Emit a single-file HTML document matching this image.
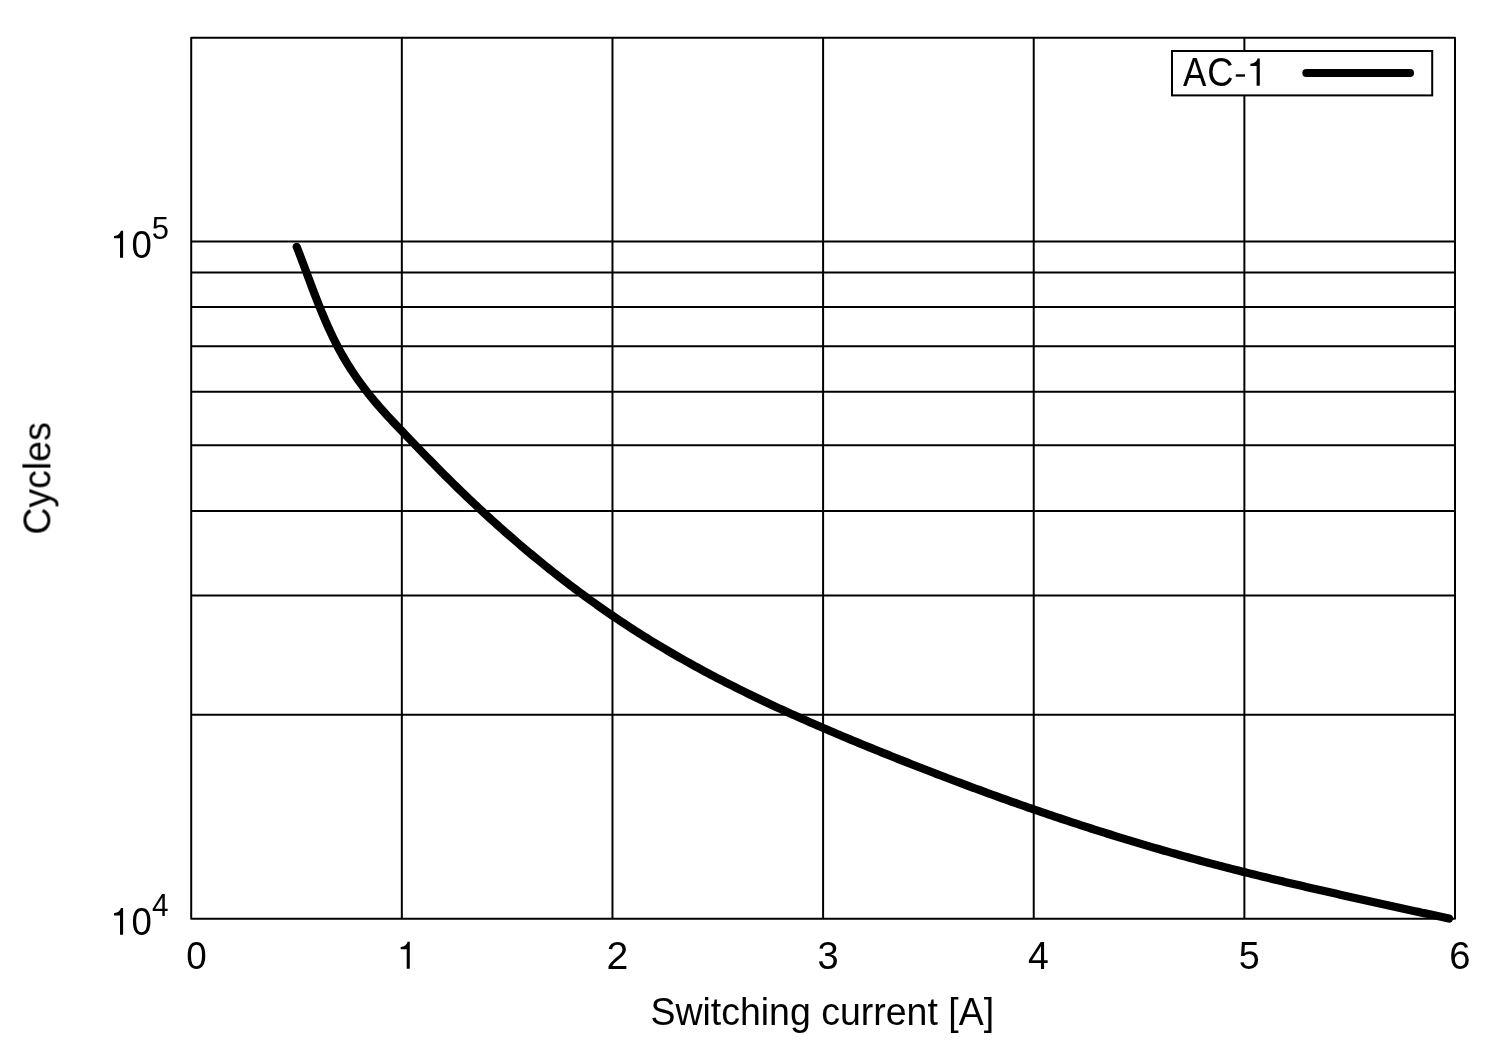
<!DOCTYPE html>
<html><head><meta charset="utf-8"><style>
html,body{margin:0;padding:0;background:#fff;width:1500px;height:1050px;overflow:hidden}
svg{display:block}
text{font-family:"Liberation Sans",sans-serif;fill:#000}
</style></head><body>
<svg width="1500" height="1050" viewBox="0 0 1500 1050">
<rect width="1500" height="1050" fill="#fff"/>
<g stroke="#000" stroke-width="2" fill="none">
<line x1="401.83" y1="37.70" x2="401.83" y2="918.70"/>
<line x1="612.47" y1="37.70" x2="612.47" y2="918.70"/>
<line x1="823.10" y1="37.70" x2="823.10" y2="918.70"/>
<line x1="1033.73" y1="37.70" x2="1033.73" y2="918.70"/>
<line x1="1244.37" y1="37.70" x2="1244.37" y2="918.70"/>
<line x1="191.20" y1="714.81" x2="1455.00" y2="714.81"/>
<line x1="191.20" y1="595.55" x2="1455.00" y2="595.55"/>
<line x1="191.20" y1="510.92" x2="1455.00" y2="510.92"/>
<line x1="191.20" y1="445.29" x2="1455.00" y2="445.29"/>
<line x1="191.20" y1="391.66" x2="1455.00" y2="391.66"/>
<line x1="191.20" y1="346.32" x2="1455.00" y2="346.32"/>
<line x1="191.20" y1="307.04" x2="1455.00" y2="307.04"/>
<line x1="191.20" y1="272.39" x2="1455.00" y2="272.39"/>
<line x1="191.20" y1="241.40" x2="1455.00" y2="241.40"/>
<path d="M191.20,37.70 H1455.00 V918.70 H191.20 Z" stroke-linejoin="round"/>
</g>
<path d="M296.78,246.91 L298.03,250.13 L299.27,253.36 L300.51,256.60 L301.73,259.85 L302.96,263.10 L304.18,266.36 L305.39,269.62 L306.61,272.89 L307.83,276.15 L309.05,279.42 L310.27,282.69 L311.50,285.96 L312.73,289.23 L313.98,292.49 L315.23,295.75 L316.49,299.01 L317.77,302.26 L319.06,305.51 L320.37,308.75 L321.69,311.98 L323.03,315.20 L324.39,318.42 L325.77,321.62 L327.17,324.81 L328.60,327.99 L330.05,331.15 L331.53,334.30 L333.04,337.44 L334.57,340.56 L336.14,343.66 L337.74,346.74 L339.37,349.81 L341.04,352.85 L342.75,355.88 L344.49,358.88 L346.27,361.86 L348.09,364.82 L349.94,367.76 L351.83,370.67 L353.75,373.57 L355.71,376.44 L357.70,379.29 L359.72,382.12 L361.77,384.93 L363.85,387.72 L365.96,390.48 L368.10,393.23 L370.27,395.95 L372.47,398.66 L374.70,401.34 L376.95,404.00 L379.23,406.64 L381.53,409.26 L383.86,411.86 L386.20,414.44 L388.56,417.01 L390.94,419.57 L393.33,422.12 L395.73,424.65 L398.13,427.18 L400.54,429.70 L402.95,432.21 L405.37,434.73 L407.78,437.24 L410.19,439.75 L412.59,442.26 L415.00,444.76 L417.41,447.27 L419.82,449.77 L422.24,452.26 L424.65,454.76 L427.07,457.25 L429.49,459.73 L431.91,462.22 L434.34,464.70 L436.78,467.17 L439.22,469.64 L441.67,472.10 L444.12,474.56 L446.59,477.01 L449.05,479.46 L451.53,481.91 L454.01,484.34 L456.50,486.77 L458.99,489.20 L461.50,491.62 L464.00,494.04 L466.52,496.45 L469.04,498.85 L471.57,501.25 L474.10,503.64 L476.65,506.02 L479.20,508.40 L481.75,510.77 L484.31,513.14 L486.88,515.49 L489.46,517.85 L492.04,520.19 L494.63,522.53 L497.22,524.86 L499.83,527.19 L502.43,529.51 L505.05,531.82 L507.67,534.12 L510.30,536.42 L512.94,538.71 L515.58,540.99 L518.23,543.26 L520.88,545.53 L523.55,547.79 L526.21,550.04 L528.89,552.28 L531.57,554.51 L534.26,556.74 L536.95,558.96 L539.66,561.17 L542.37,563.37 L545.08,565.57 L547.80,567.75 L550.53,569.93 L553.27,572.10 L556.01,574.26 L558.76,576.41 L561.51,578.55 L564.27,580.68 L567.04,582.81 L569.81,584.92 L572.59,587.03 L575.38,589.13 L578.18,591.21 L580.98,593.29 L583.79,595.36 L586.60,597.42 L589.42,599.47 L592.25,601.51 L595.08,603.54 L597.92,605.56 L600.77,607.57 L603.62,609.57 L606.48,611.56 L609.35,613.53 L612.22,615.50 L615.10,617.46 L617.99,619.41 L620.88,621.35 L623.78,623.27 L626.68,625.19 L629.60,627.09 L632.52,628.99 L635.44,630.87 L638.37,632.74 L641.31,634.60 L644.26,636.45 L647.21,638.29 L650.16,640.12 L653.13,641.94 L656.10,643.74 L659.07,645.54 L662.06,647.32 L665.05,649.10 L668.04,650.86 L671.04,652.62 L674.05,654.36 L677.06,656.10 L680.07,657.82 L683.10,659.53 L686.12,661.24 L689.16,662.93 L692.20,664.62 L695.24,666.29 L698.29,667.96 L701.35,669.62 L704.41,671.27 L707.47,672.91 L710.54,674.54 L713.61,676.16 L716.69,677.77 L719.78,679.38 L722.87,680.97 L725.96,682.56 L729.06,684.14 L732.16,685.71 L735.27,687.28 L738.38,688.83 L741.49,690.38 L744.61,691.92 L747.74,693.45 L750.86,694.98 L754.00,696.50 L757.13,698.01 L760.27,699.51 L763.41,701.01 L766.56,702.49 L769.71,703.98 L772.86,705.45 L776.02,706.92 L779.18,708.38 L782.35,709.84 L785.51,711.29 L788.68,712.73 L791.86,714.17 L795.03,715.60 L798.21,717.02 L801.40,718.44 L804.58,719.86 L807.77,721.26 L810.96,722.67 L814.15,724.06 L817.35,725.45 L820.55,726.84 L823.75,728.22 L826.95,729.60 L830.16,730.97 L833.37,732.34 L836.58,733.70 L839.79,735.06 L843.00,736.41 L846.22,737.76 L849.44,739.10 L852.65,740.44 L855.88,741.78 L859.10,743.11 L862.32,744.44 L865.55,745.76 L868.78,747.08 L872.01,748.40 L875.24,749.71 L878.47,751.02 L881.70,752.33 L884.93,753.63 L888.17,754.93 L891.40,756.23 L894.64,757.53 L897.88,758.82 L901.12,760.10 L904.36,761.39 L907.60,762.67 L910.84,763.95 L914.09,765.22 L917.33,766.49 L920.58,767.76 L923.83,769.02 L927.08,770.28 L930.33,771.54 L933.58,772.80 L936.83,774.05 L940.08,775.29 L943.34,776.54 L946.59,777.77 L949.85,779.01 L953.11,780.24 L956.37,781.47 L959.63,782.70 L962.89,783.92 L966.15,785.14 L969.42,786.35 L972.69,787.56 L975.95,788.77 L979.22,789.97 L982.49,791.17 L985.76,792.36 L989.03,793.55 L992.31,794.74 L995.58,795.93 L998.86,797.11 L1002.13,798.28 L1005.41,799.45 L1008.69,800.62 L1011.97,801.79 L1015.26,802.95 L1018.54,804.10 L1021.82,805.25 L1025.11,806.40 L1028.40,807.54 L1031.69,808.68 L1034.98,809.82 L1038.27,810.95 L1041.56,812.08 L1044.86,813.20 L1048.15,814.32 L1051.45,815.44 L1054.75,816.55 L1058.05,817.65 L1061.35,818.76 L1064.65,819.85 L1067.95,820.95 L1071.26,822.04 L1074.56,823.12 L1077.87,824.20 L1081.18,825.28 L1084.49,826.35 L1087.80,827.42 L1091.12,828.48 L1094.43,829.54 L1097.75,830.59 L1101.07,831.64 L1104.38,832.69 L1107.71,833.73 L1111.03,834.76 L1114.35,835.80 L1117.68,836.82 L1121.00,837.85 L1124.33,838.86 L1127.66,839.88 L1130.99,840.88 L1134.32,841.89 L1137.65,842.89 L1140.99,843.88 L1144.32,844.87 L1147.66,845.85 L1151.00,846.83 L1154.34,847.81 L1157.69,848.78 L1161.03,849.74 L1164.37,850.70 L1167.72,851.66 L1171.07,852.61 L1174.42,853.56 L1177.77,854.50 L1181.12,855.43 L1184.48,856.36 L1187.83,857.29 L1191.19,858.21 L1194.55,859.13 L1197.91,860.04 L1201.27,860.94 L1204.63,861.84 L1208.00,862.74 L1211.37,863.63 L1214.73,864.51 L1218.10,865.39 L1221.47,866.27 L1224.85,867.14 L1228.22,868.01 L1231.59,868.87 L1234.97,869.73 L1238.35,870.59 L1241.72,871.44 L1245.10,872.28 L1248.48,873.12 L1251.87,873.96 L1255.25,874.79 L1258.63,875.63 L1262.02,876.45 L1265.40,877.27 L1268.79,878.09 L1272.18,878.91 L1275.57,879.72 L1278.96,880.53 L1282.35,881.34 L1285.74,882.14 L1289.13,882.94 L1292.52,883.74 L1295.92,884.53 L1299.31,885.32 L1302.71,886.11 L1306.10,886.90 L1309.50,887.68 L1312.89,888.46 L1316.29,889.24 L1319.69,890.02 L1323.09,890.79 L1326.49,891.56 L1329.88,892.33 L1333.28,893.10 L1336.68,893.87 L1340.08,894.63 L1343.49,895.39 L1346.89,896.15 L1350.29,896.91 L1353.69,897.67 L1357.09,898.43 L1360.49,899.18 L1363.89,899.93 L1367.30,900.69 L1370.70,901.44 L1374.10,902.19 L1377.50,902.94 L1380.90,903.69 L1384.31,904.43 L1387.71,905.18 L1391.11,905.93 L1394.51,906.67 L1397.91,907.42 L1401.32,908.16 L1404.72,908.91 L1408.12,909.65 L1411.52,910.39 L1414.92,911.14 L1418.32,911.88 L1421.72,912.63 L1425.12,913.37 L1428.52,914.12 L1431.92,914.86 L1435.31,915.61 L1438.71,916.35 L1442.11,917.10 L1445.50,917.85 L1448.90,918.60" fill="none" stroke="#000" stroke-width="8.2" stroke-linecap="round" stroke-linejoin="round"/>
<rect x="1172" y="51" width="260.2" height="44.4" fill="#fff" stroke="#000" stroke-width="2"/>
<line x1="1306.3" y1="73.1" x2="1410" y2="73.1" stroke="#000" stroke-width="8.0" stroke-linecap="round"/>
<g font-size="39.3" opacity="0.999">
<path d="M6.0,27 L9.1,27 L9.1,0 L6.9,0 C6.3,2.6 4.0,4.9 0,5.3 L0,7.5 L6.0,7.5 Z" transform="translate(114.0,230.8) scale(1.0,0.9962962962962962)"/>
<text font-size="39.41" transform="translate(131.47,258.21) scale(0.929,1)">0</text>
<text font-size="31.81" transform="translate(151.86,239.38) scale(0.975,1)">5</text>
<path d="M6.0,27 L9.1,27 L9.1,0 L6.9,0 C6.3,2.6 4.0,4.9 0,5.3 L0,7.5 L6.0,7.5 Z" transform="translate(114.0,908.0) scale(1.0,0.9888888888888888)"/>
<text font-size="38.98" transform="translate(131.47,935.21) scale(0.939,1)">0</text>
<text font-size="30.96" transform="translate(152.12,915.80) scale(0.961,1)">4</text>
<text font-size="40.26" transform="translate(1182.88,85.80) scale(0.871,1)">A</text>
<text font-size="40.11" transform="translate(1207.15,86.00) scale(0.906,1)">C</text>
<rect x="1235.8" y="74.3" width="9.2" height="2.4"/>
<path d="M6.0,27 L9.1,27 L9.1,0 L6.9,0 C6.3,2.6 4.0,4.9 0,5.3 L0,7.5 L6.0,7.5 Z" transform="translate(1250.4,58.4) scale(1.032967032967033,1.0148148148148148)"/>
<text font-size="39.55" transform="translate(186.16,969.10) scale(0.931,1)">0</text>
<text font-size="38.97" transform="translate(606.44,968.70) scale(1.007,1)">2</text>
<text font-size="39.69" transform="translate(817.60,969.10) scale(0.959,1)">3</text>
<text font-size="39.53" transform="translate(1028.09,968.70) scale(0.946,1)">4</text>
<text font-size="39.54" transform="translate(1238.79,969.10) scale(0.955,1)">5</text>
<text font-size="39.55" transform="translate(1449.25,969.10) scale(0.965,1)">6</text>
<path d="M6.0,27 L9.1,27 L9.1,0 L6.9,0 C6.3,2.6 4.0,4.9 0,5.3 L0,7.5 L6.0,7.5 Z" transform="translate(400.7,941.7) scale(1.0,1.0)"/>
<text transform="translate(650.4,1024.9) scale(0.954,1)">Switching current [A]</text>
<text transform="translate(50.4,534.6) rotate(-90) scale(0.954,1)">Cycles</text>
</g>
</svg>
</body></html>
